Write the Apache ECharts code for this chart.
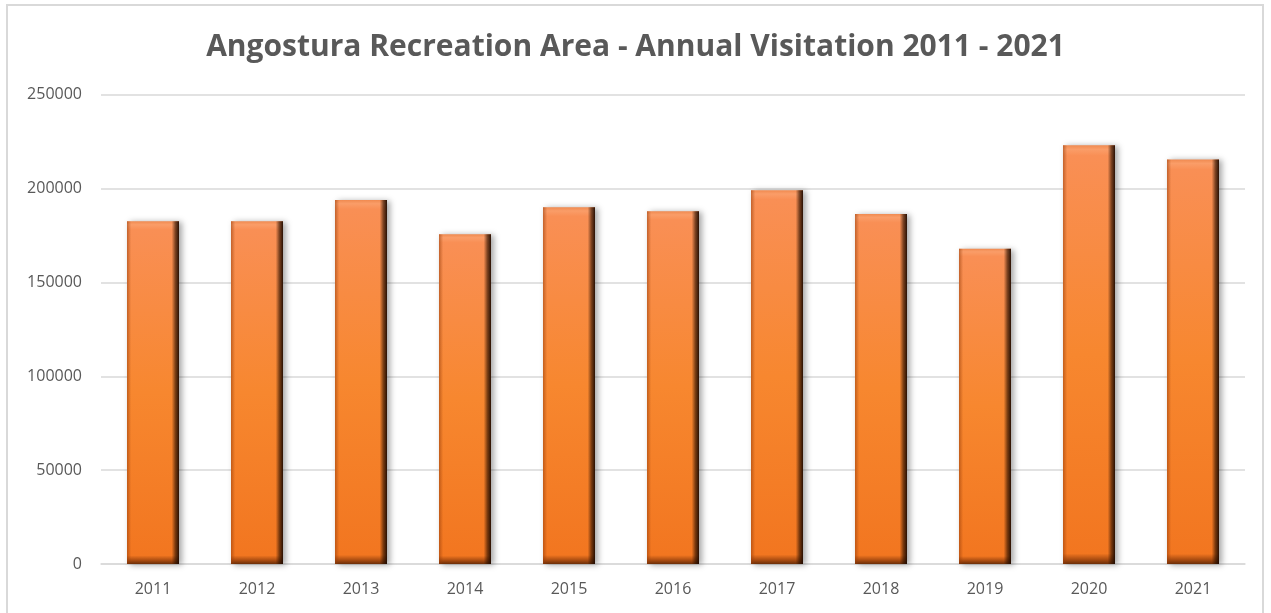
<!DOCTYPE html>
<html>
<head>
<meta charset="utf-8">
<script src="https://cdn.jsdelivr.net/npm/echarts@6/dist/echarts.min.js"></script>
<style>
  html, body { margin: 0; padding: 0; background: #fff; }
  #chart { width: 1271px; height: 613px; }
</style>
</head>
<body>
<div id="chart"></div>
<script>
var years = ['2011', '2012', '2013', '2014', '2015', '2016', '2017', '2018', '2019', '2020', '2021'];
var visits = [182600, 182600, 193900, 175600, 190000, 187900, 199100, 186500, 168000, 223100, 215500];
var yTicks = [0, 50000, 100000, 150000, 200000, 250000];

var chart = echarts.init(document.getElementById('chart'));

var option = {
  animation: false,
  title: {
    text: 'Angostura Recreation Area - Annual Visitation 2011 - 2021',
    left: 'center',
    top: 27,
    textStyle: {
      fontFamily: 'Open Sans',
      fontWeight: 'bold',
      fontSize: 30,
      color: '#595959'
    }
  },
  graphic: [{
    type: 'rect',
    shape: { x: 7, y: 5, width: 1256, height: 640 },
    style: { fill: 'none', stroke: '#d9d9d9', lineWidth: 2 },
    silent: true
  }],
  grid: { left: 101, right: 26, top: 94.7, bottom: 49 },
  xAxis: {
    type: 'category',
    data: years,
    axisLine: { lineStyle: { color: '#d9d9d9', width: 1.5 } },
    axisTick: { show: false },
    axisLabel: { color: '#595959', fontFamily: 'Open Sans', fontSize: 16, margin: 17 }
  },
  yAxis: {
    type: 'value',
    min: yTicks[0],
    max: yTicks[yTicks.length - 1],
    interval: 50000,
    axisLine: { show: false },
    axisTick: { show: false },
    splitLine: { lineStyle: { color: '#d9d9d9', width: 1.5 } },
    axisLabel: {
      color: '#595959', fontFamily: 'Open Sans', fontSize: 16, margin: 19,
      formatter: function (v) { return String(v); }
    }
  },
  series: [{
    type: 'bar',
    data: visits,
    barWidth: '50%',
    itemStyle: {
      color: new echarts.graphic.LinearGradient(0, 0, 0, 1, [
        { offset: 0, color: '#f08a50' },
        { offset: 0.01, color: '#fa9d68' },
        { offset: 0.025, color: '#f98f55' },
        { offset: 0.5, color: '#f7872f' },
        { offset: 0.975, color: '#f27620' },
        { offset: 0.99, color: '#a64a10' },
        { offset: 1, color: '#6b2e08' }
      ]),
      shadowColor: 'rgba(0,0,0,0.35)',
      shadowBlur: 6,
      shadowOffsetX: 3,
      shadowOffsetY: 1
    }
  }, {
    type: 'bar',
    data: visits,
    barWidth: '50%',
    barGap: '-100%',
    silent: true,
    itemStyle: {
      color: new echarts.graphic.LinearGradient(0, 0, 1, 0, [
        { offset: 0, color: 'rgba(150,60,10,0.55)' },
        { offset: 0.08, color: 'rgba(150,60,10,0)' },
        { offset: 0.86, color: 'rgba(40,15,0,0)' },
        { offset: 0.93, color: 'rgba(40,15,0,0.6)' },
        { offset: 1, color: 'rgba(30,10,0,0.95)' }
      ])
    }
  }]
};

chart.setOption(option);
</script>
</body>
</html>
